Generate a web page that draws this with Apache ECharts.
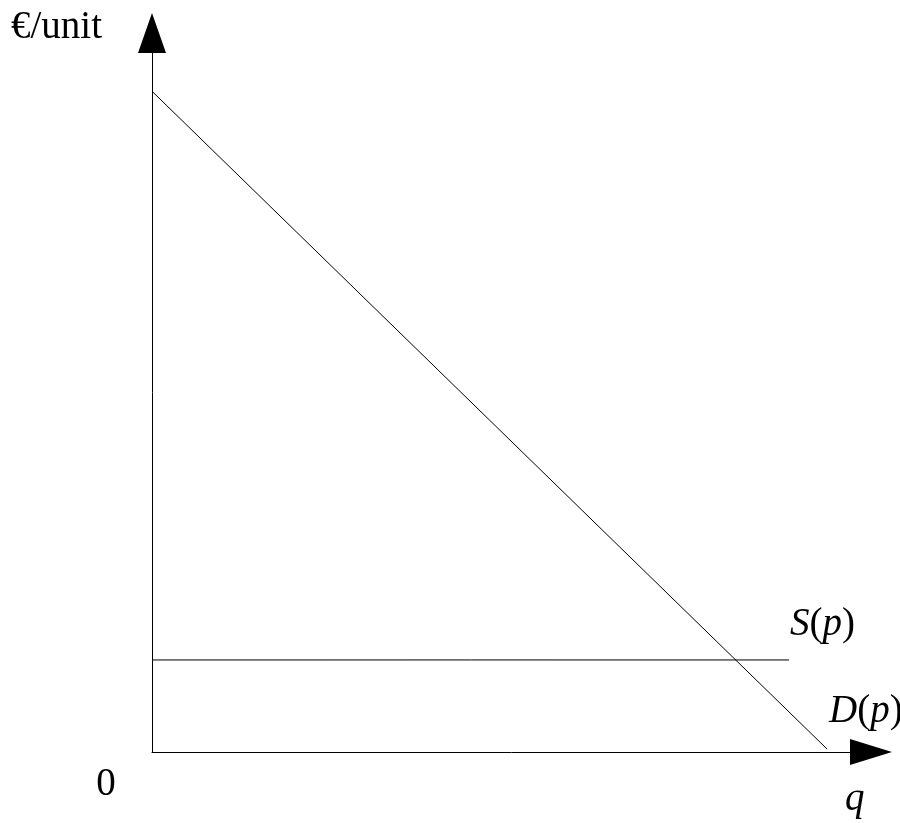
<!DOCTYPE html>
<html>
<head>
<meta charset="utf-8">
<script src="https://cdn.jsdelivr.net/npm/echarts@6/dist/echarts.min.js"></script>
<style>html,body{margin:0;padding:0;background:#fff;}#c{width:900px;height:823px;}</style>
</head>
<body>
<div id="c"></div>
<script>
// Schematic data (axis units 0..100)
var demandQ = [0, 93.9];
var demandP = [91.9, 0.4];
var supplyQ = [0, 88.6];
var supplyP = [12.8, 12.8];
var labels = { yName: '€/unit', xName: 'q', origin: '0', supply: 'S(p)', demand: 'D(p)' };

function pairs(xs, ys) { return xs.map(function (x, i) { return [x, ys[i]]; }); }

var chart = echarts.init(document.getElementById('c'), null, { renderer: 'canvas' });
var font = '"Liberation Serif", "Times New Roman", serif';
var fs = '39px ';
var rich = { i: { font: 'italic ' + fs + font, fill: '#000' }, n: { font: fs + font, fill: '#000' } };
chart.setOption({
  animation: false,
  backgroundColor: '#fff',
  grid: { left: 152, top: 33, right: 29, bottom: 71 },
  xAxis: {
    type: 'value', min: 0, max: 100,
    axisLabel: { show: false }, axisTick: { show: false }, splitLine: { show: false },
    axisLine: { show: true, symbol: ['none', 'triangle'], symbolSize: [26, 42], lineStyle: { color: '#000', width: 1 } }
  },
  yAxis: {
    type: 'value', min: 0, max: 100,
    axisLabel: { show: false }, axisTick: { show: false }, splitLine: { show: false },
    axisLine: { show: true, symbol: ['none', 'triangle'], symbolSize: [28, 40], lineStyle: { color: '#000', width: 1 } }
  },
  series: [
    { name: 'D(p)', type: 'line', data: pairs(demandQ, demandP), showSymbol: false, silent: true,
      lineStyle: { color: '#000', width: 1 } },
    { name: 'S(p)', type: 'line', data: pairs(supplyQ, supplyP), showSymbol: false, silent: true,
      lineStyle: { color: '#000', width: 1 } }
  ],
  graphic: [
    { type: 'text', left: 11, top: 8, style: { text: labels.yName, font: fs + font, fill: '#000' } },
    { type: 'text', x: 106, y: 785, style: { text: labels.origin, font: fs + font, fill: '#000', align: 'center', verticalAlign: 'middle' } },
    { type: 'text', x: 845, y: 800, style: { text: labels.xName, font: 'italic ' + fs + font, fill: '#000', verticalAlign: 'middle' } },
    { type: 'text', x: 790, y: 625, style: { rich: rich, text: '{i|S}{n|(}{i|p}{n|)}', verticalAlign: 'middle' } },
    { type: 'text', x: 829, y: 712, style: { rich: rich, text: '{i|D}{n|(}{i|p}{n|)}', verticalAlign: 'middle' } }
  ]
});
</script>
</body>
</html>
